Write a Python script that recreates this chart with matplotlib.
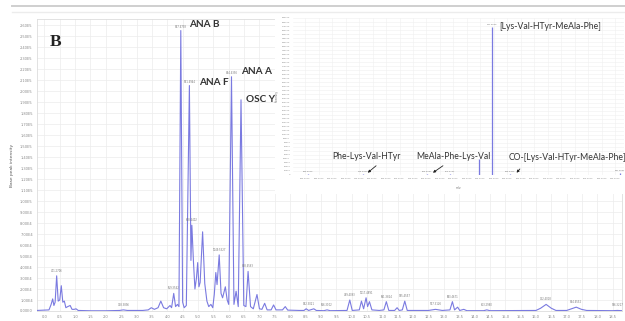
import matplotlib
matplotlib.use("Agg")
import matplotlib.pyplot as plt
from matplotlib.ticker import FixedLocator, NullLocator

# ---------------- main chromatogram (base peak intensity vs retention time) ----------------
time_min = [-0.24, 0.15, 0.22, 0.27, 0.31, 0.35, 0.40, 0.45, 0.50, 0.55, 0.60, 0.65, 0.70,
            0.76, 0.84, 0.90, 0.97, 1.03, 1.10, 1.5, 2.0, 2.45, 2.57, 2.7, 3.2, 3.38, 3.48,
            3.58, 3.70, 3.79, 3.88, 3.98, 4.05, 4.09, 4.14, 4.21, 4.27, 4.33, 4.38, 4.44,
            4.50, 4.55, 4.62, 4.72, 4.77, 4.80, 4.85, 4.90, 4.95, 4.99, 5.03, 5.07, 5.15,
            5.22, 5.29, 5.35, 5.42, 5.48, 5.53, 5.58, 5.62, 5.69, 5.75, 5.80, 5.89, 5.95,
            6.00, 6.09, 6.17, 6.24, 6.31, 6.40, 6.49, 6.56, 6.63, 6.71, 6.80, 6.92, 7.00,
            7.08, 7.17, 7.25, 7.38, 7.46, 7.54, 7.75, 7.84, 7.92, 8.30, 8.45, 8.52, 8.60,
            8.71, 8.77, 8.85, 9.10, 9.20, 9.30, 9.85, 9.94, 10.02, 10.25, 10.32, 10.39,
            10.47, 10.52, 10.58, 10.66, 10.90, 11.05, 11.13, 11.21, 11.40, 11.48, 11.55,
            11.65, 11.73, 11.81, 12.50, 12.73, 12.95, 13.20, 13.28, 13.35, 13.45, 13.52,
            13.65, 13.75, 14.30, 14.40, 14.50, 16.00, 16.15, 16.33, 16.50, 16.65, 17.00,
            17.15, 17.31, 17.48, 17.65, 18.50, 18.65, 18.80]
intensity_e4 = [0.05, 0.1, 0.6, 1.1, 0.5, 0.8, 3.2, 0.9, 1.0, 2.3, 0.8, 0.9, 0.3,
                0.4, 0.5, 0.15, 0.15, 0.2, 0.05, 0.02, 0.02, 0.05, 0.1, 0.05, 0.05, 0.1, 0.3,
                0.15, 0.3, 0.9, 0.3, 0.2, 0.4, 0.5, 0.3, 1.6, 0.4, 0.6, 0.4, 25.5,
                0.8, 0.3, 0.5, 20.5, 4.6, 7.8, 4.6, 2.0, 3.0, 4.4, 2.2, 2.6, 7.2,
                2.5, 0.9, 0.4, 0.6, 0.3, 1.5, 3.5, 2.4, 5.1, 1.6, 1.2, 2.2, 1.0,
                0.6, 21.3, 0.6, 1.8, 0.4, 19.2, 0.5, 0.4, 3.6, 0.4, 0.2, 1.5, 0.2,
                0.15, 0.7, 0.1, 0.1, 0.55, 0.1, 0.1, 0.4, 0.08, 0.05, 0.05, 0.2, 0.05,
                0.15, 0.2, 0.05, 0.03, 0.1, 0.03, 0.05, 1.0, 0.05, 0.1, 0.9, 0.2,
                1.2, 0.4, 0.85, 0.1, 0.05, 0.1, 0.85, 0.05, 0.05, 0.3, 0.05,
                0.1, 0.9, 0.05, 0.05, 0.15, 0.05, 0.1, 0.85, 0.1, 0.35, 0.05,
                0.15, 0.03, 0.03, 0.1, 0.03, 0.05, 0.25, 0.6, 0.25, 0.05, 0.05,
                0.2, 0.35, 0.15, 0.05, 0.03, 0.05, 0.03]

x_tick_values = [i * 0.5 for i in range(38)]
x_tick_labels = ["%.1f" % v for v in x_tick_values]
y_tick_values_e4 = list(range(0, 27))

# named compounds
peak_names = ["ANA B", "ANA F", "ANA A", "OSC Y"]
peak_times = [4.44, 4.72, 6.09, 6.40]
peak_heights_e4 = [25.5, 20.5, 21.3, 19.2]
peak_mz_text = ["837.4793", "851.4944", "844.4356", ""]
name_offsets_pt = [(6, 4), (7, 2.2), (7, 3.6), (3.8, 0.3)]

# small annotated peaks (retention time, height, label)
small_t = [0.40, 2.57, 4.21, 4.80, 5.69, 6.63, 8.62, 9.20, 9.94, 10.47, 11.13, 11.73,
           12.73, 13.28, 14.40, 16.33, 17.31, 18.65]
small_h = [3.2, 0.1, 1.6, 7.8, 5.1, 3.6, 0.2, 0.1, 1.0, 1.2, 0.85, 0.9,
           0.15, 0.85, 0.1, 0.6, 0.35, 0.05]
small_text = ["401.2706", "728.3896", "659.3542", "808.4402", "1049.5327", "828.4563",
              "542.3021", "566.3102", "749.4093", "1017.4891", "691.3824", "915.4557",
              "577.3126", "903.4671", "613.2980", "762.4018", "834.4552", "596.3217"]

# ---------------- inset MS/MS spectrum ----------------
mz_values = [364.2, 445.9, 540.7, 574.8, 618.3, 637.3, 663.7, 826.7]
mz_intensity = [3000, 2500, 2500, 3000, 40000, 368000, 2500, 6000]
mz_labels = ["364.2013", "445.2340", "540.3287", "574.2731", "", "637.3569", "663.3402", "837.4681"]
inset_x_ticks = [360 + 20 * k for k in range(24)]
inset_y_ticks = [10000 * k for k in range(40)]

fragment_names = ["Phe-Lys-Val-HTyr", "MeAla-Phe-Lys-Val", "CO-[Lys-Val-HTyr-MeAla-Phe]"]
fragment_mz = [452.9, 549.6, 673.6]
fragment_tip_y = [5700, 5700, 5700]
arrow_start_pt = [(6, 5), (7.2, 5), (2.4, 2.7)]
fragment_text_pt = [(-0.9, 11.5), (15, 11.5), (36.6, 10.6)]
main_fragment = "[Lys-Val-HTyr-MeAla-Phe]"

LINE = "#7a7ae0"
GRID = "#ececec"
TICK = "#8a8a8a"

W, H = 625, 321
fig = plt.figure(figsize=(W / 100, H / 100), dpi=100)
fig.patch.set_facecolor("white")

def fx(px):
    return px / W

def fy(py):
    return 1 - py / H

# page lines at top
fig.add_artist(plt.Line2D([fx(12), 1], [fy(6), fy(6)], color="#cfcfcf", lw=1.4))
fig.add_artist(plt.Line2D([fx(12), 1], [fy(11.5), fy(11.5)], color="#ececec", lw=1.0))

ax = fig.add_axes([fx(37), fy(311), fx(622) - fx(37), fy(19) - fy(311)])
ax.plot(time_min, [v * 1e4 for v in intensity_e4], color=LINE, lw=0.8, zorder=3)
ax.set_xlim(-0.24, 18.8)
ax.set_ylim(0, 26.55e4)
ax.xaxis.set_major_locator(FixedLocator(x_tick_values))
ax.set_xticklabels(x_tick_labels)
ax.yaxis.set_major_locator(FixedLocator([v * 1e4 for v in y_tick_values_e4]))
ylabels = []
for v in y_tick_values_e4:
    if v == 0:
        ylabels.append("0.00E0")
    elif v < 10:
        ylabels.append("%.2fE4" % v)
    else:
        ylabels.append("%.2fE5" % (v / 10))
ax.set_yticklabels(ylabels)
ax.tick_params(axis="both", length=0, labelsize=2.6, colors=TICK, pad=3)
ax.grid(True, color=GRID, lw=0.5)
for s in ax.spines.values():
    s.set_color("#dddddd")
    s.set_linewidth(0.6)
ax.set_ylabel("Base peak intensity", fontsize=3.2, color="#555555", labelpad=4)

ax.text(0.021, 0.95, "B", transform=ax.transAxes, fontsize=12.5,
        family="Liberation Serif", fontweight="bold", color="#222222", va="top", ha="left")

for name, t, h, mzt, off in zip(peak_names, peak_times, peak_heights_e4, peak_mz_text, name_offsets_pt):
    if mzt:
        ax.annotate(mzt, (t, h * 1e4), xytext=(0, 1.2), textcoords="offset points",
                    fontsize=1.8, color="#777777", ha="center", va="bottom")
    ax.annotate(name, (t, h * 1e4), xytext=off, textcoords="offset points",
                fontsize=7.2, family="Lato", fontweight="bold", color="#333333",
                ha="left", va="center")

for t, h, txt in zip(small_t, small_h, small_text):
    ax.annotate(txt, (t, h * 1e4), xytext=(0, 2.2), textcoords="offset points",
                fontsize=1.8, color="#777777", ha="center", va="bottom")

# white backing for the inset
back = fig.add_axes([fx(275), fy(194), fx(625) - fx(275), fy(14) - fy(194)])
back.set_facecolor("white")
back.set_xticks([])
back.set_yticks([])
for s in back.spines.values():
    s.set_visible(False)

ins = fig.add_axes([fx(293), fy(175), fx(624) - fx(293), fy(18) - fy(175)])
ins.set_facecolor("white")
ins.vlines(mz_values, 0, mz_intensity, color=LINE, lw=0.9, zorder=3)
ins.plot([342, 833], [0, 0], color=LINE, lw=0.6, zorder=3)
ins.set_xlim(342, 833)
ins.set_ylim(0, 390000)
ins.xaxis.set_major_locator(FixedLocator(inset_x_ticks))
ins.set_xticklabels(["%.4f" % v for v in inset_x_ticks])
ins.yaxis.set_major_locator(FixedLocator(inset_y_ticks))
ins.set_yticklabels(["%d" % (v // 1000 * 1000) for v in inset_y_ticks])
ins.tick_params(axis="both", length=0, labelsize=1.6, colors=TICK, pad=2)
ins.grid(True, color="#f0f0f0", lw=0.4)
for s in ins.spines.values():
    s.set_visible(False)
ins.set_xlabel("m/z", fontsize=2.2, color="#777777", labelpad=5)
ins.set_ylabel("Intensity", fontsize=2.0, color="#777777", labelpad=2)

for mz, inten, lab in zip(mz_values, mz_intensity, mz_labels):
    if lab:
        ins.annotate(lab, (mz, inten), xytext=(0, 1.2), textcoords="offset points",
                     fontsize=1.6, color="#777777", ha="center", va="bottom")

ins.annotate(main_fragment, (mz_values[5], mz_intensity[5]), xytext=(4.9, 0),
             textcoords="offset points", fontsize=6.2, family="Lato",
             color="#333333", ha="left", va="center")

for name, mz, ty, a_off, t_off in zip(fragment_names, fragment_mz, fragment_tip_y,
                                      arrow_start_pt, fragment_text_pt):
    ins.annotate("", (mz, ty), xytext=a_off, textcoords="offset points",
                 arrowprops=dict(arrowstyle="-|>", color="#222222", lw=0.6,
                                 mutation_scale=3.5, shrinkA=0, shrinkB=0))
    ins.annotate(name, (mz, ty), xytext=t_off, textcoords="offset points",
                 fontsize=6.2, family="Lato", color="#333333", ha="center", va="center")

fig.savefig("out.png", dpi=100, facecolor="white")
